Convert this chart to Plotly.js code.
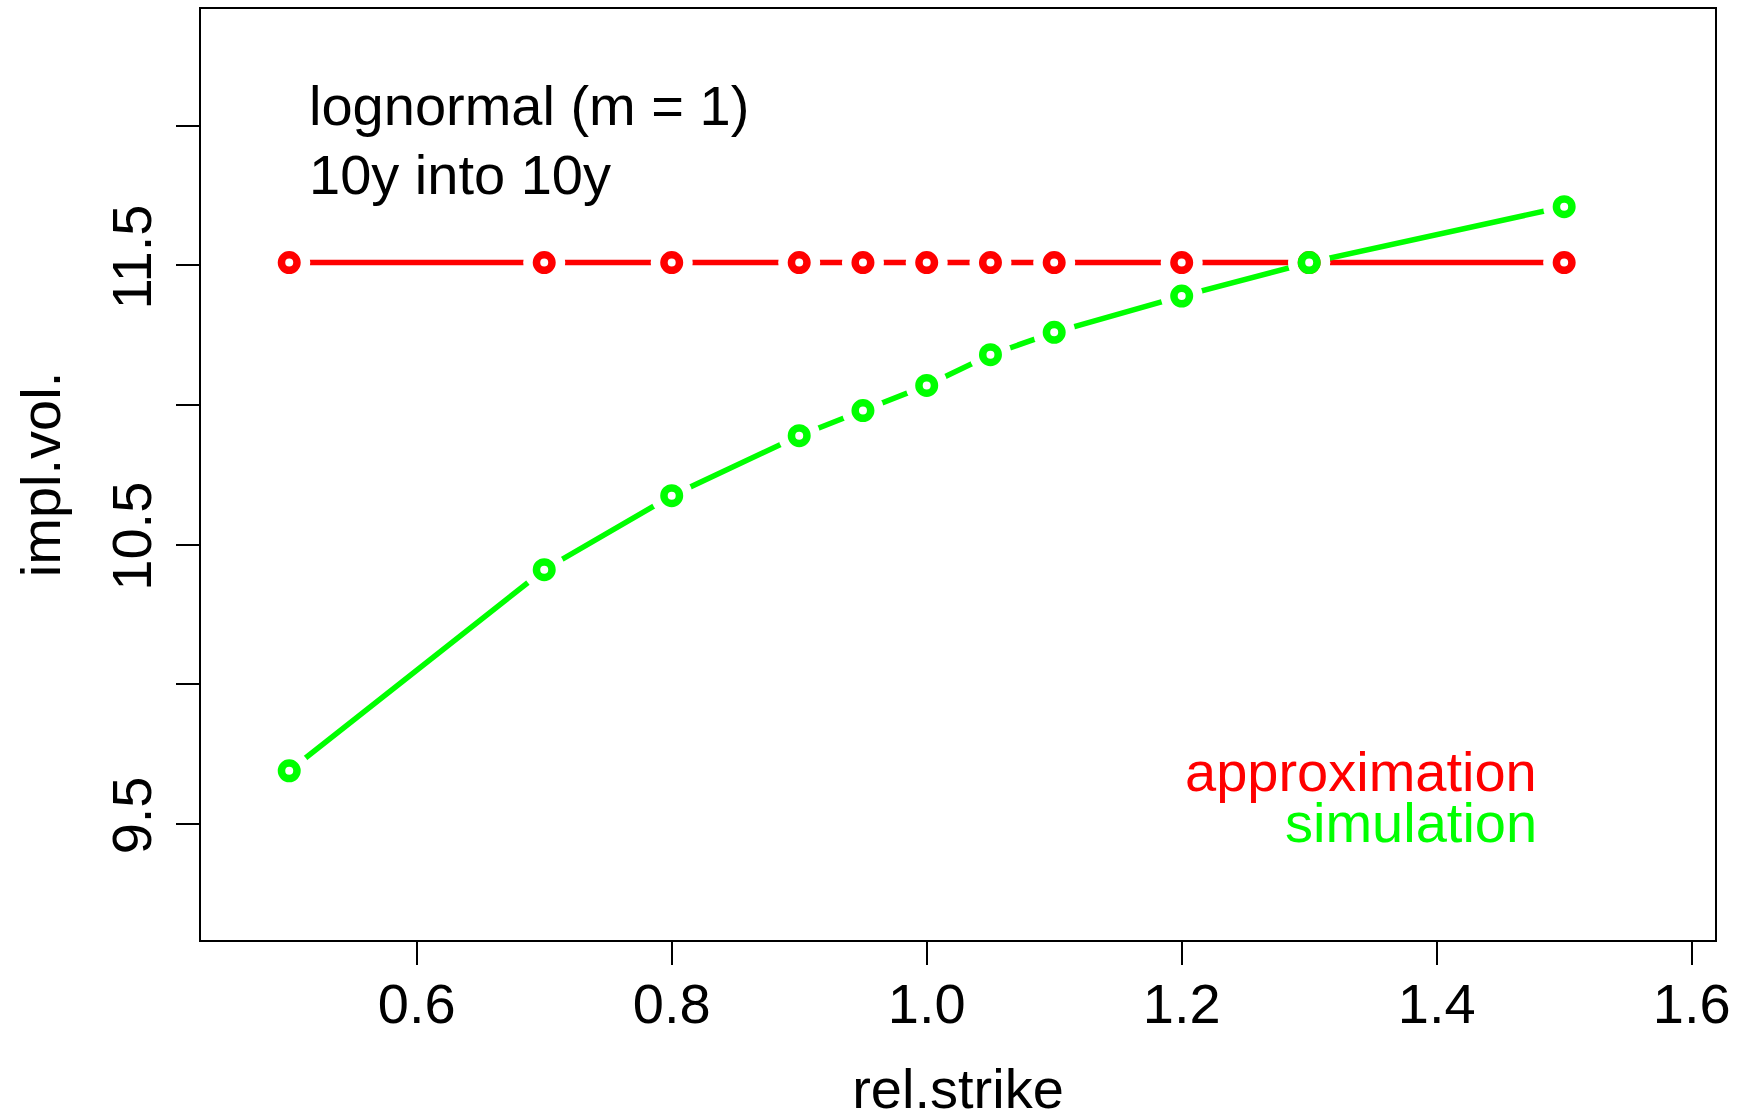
<!DOCTYPE html>
<html>
<head>
<meta charset="utf-8">
<script src="https://cdn.plot.ly/plotly-3.0.1.min.js"></script>
<style>
  html, body { margin: 0; padding: 0; background: #ffffff; }
  #chart { width: 1744px; height: 1120px; }
</style>
</head>
<body>
<div id="chart"></div>
<script>
// ---- data ----
const strike = [0.5, 0.7, 0.8, 0.9, 0.95, 1.0, 1.05, 1.1, 1.2, 1.3, 1.5];
const approximation = [11.51, 11.51, 11.51, 11.51, 11.51, 11.51, 11.51, 11.51, 11.51, 11.51, 11.51];
const simulation = [9.69, 10.41, 10.675, 10.89, 10.98, 11.07, 11.18, 11.26, 11.39, 11.51, 11.71];

const xTickVals = [0.6, 0.8, 1.0, 1.2, 1.4, 1.6];
const xTickText = ['0.6', '0.8', '1.0', '1.2', '1.4', '1.6'];
const yTickVals = [9.5, 10.0, 10.5, 11.0, 11.5, 12.0];
const yTickText = ['9.5', '', '10.5', '', '11.5', ''];

const RED = '#ff0000';
const GREEN = '#00ff00';
const FONT = '"Liberation Sans", Arial, Helvetica, sans-serif';

function lineTrace(y, color) {
  return { x: strike, y: y, type: 'scatter', mode: 'lines',
           line: { color: color, width: 5.5 }, hoverinfo: 'skip', showlegend: false };
}
function maskTrace(y) {
  return { x: strike, y: y, type: 'scatter', mode: 'markers',
           marker: { symbol: 'circle', size: 42, color: '#ffffff', line: { width: 0 } },
           hoverinfo: 'skip', showlegend: false };
}
function pointTrace(y, color, name) {
  return { x: strike, y: y, type: 'scatter', mode: 'markers', name: name,
           marker: { symbol: 'circle', size: 15.5, color: '#ffffff', line: { color: color, width: 7.5 } },
           hoverinfo: 'skip', showlegend: false };
}

const data = [
  lineTrace(approximation, RED),
  lineTrace(simulation, GREEN),
  maskTrace(approximation),
  maskTrace(simulation),
  pointTrace(approximation, RED, 'approximation'),
  pointTrace(simulation, GREEN, 'simulation')
];

const layout = {
  width: 1744, height: 1120,
  margin: { l: 201, r: 29, t: 8.5, b: 180, pad: 0 },
  paper_bgcolor: '#ffffff', plot_bgcolor: '#ffffff',
  font: { family: FONT, size: 56, color: '#000000' },
  showlegend: false,
  xaxis: {
    range: [0.4308, 1.6183], showgrid: false, zeroline: false,
    showline: true, mirror: true, linecolor: '#000000', linewidth: 2,
    ticks: 'outside', ticklen: 23, tickwidth: 2, tickcolor: '#000000',
    tickvals: xTickVals, ticktext: xTickText,
    tickfont: { family: FONT, size: 56, color: '#000000' },
    ticklabelstandoff: -9,
    title: { text: 'rel.strike', font: { family: FONT, size: 56, color: '#000000' }, standoff: 43 },
    automargin: false
  },
  yaxis: {
    range: [9.084, 12.418], showgrid: false, zeroline: false,
    showline: true, mirror: true, linecolor: '#000000', linewidth: 2,
    ticks: 'outside', ticklen: 23, tickwidth: 2, tickcolor: '#000000',
    tickvals: yTickVals, ticktext: yTickText, tickangle: -90,
    tickfont: { family: FONT, size: 56, color: '#000000' },
    ticklabelstandoff: 3,
    title: { text: 'impl.vol.', font: { family: FONT, size: 56, color: '#000000' }, standoff: 21 },
    automargin: false
  },
  annotations: [
    { text: 'lognormal (m = 1)', xref: 'paper', yref: 'paper', x: 0.070, y: 0.8961,
      xanchor: 'left', yanchor: 'middle', showarrow: false,
      font: { family: FONT, size: 56, color: '#000000' } },
    { text: '10y into 10y', xref: 'paper', yref: 'paper', x: 0.070, y: 0.8227,
      xanchor: 'left', yanchor: 'middle', showarrow: false,
      font: { family: FONT, size: 56, color: '#000000' } },
    { text: 'approximation', xref: 'paper', yref: 'paper', x: 0.8838, y: 0.181,
      xanchor: 'right', yanchor: 'middle', showarrow: false,
      font: { family: FONT, size: 56, color: RED } },
    { text: 'simulation', xref: 'paper', yref: 'paper', x: 0.8838, y: 0.1264,
      xanchor: 'right', yanchor: 'middle', showarrow: false,
      font: { family: FONT, size: 56, color: GREEN } }
  ]
};

Plotly.newPlot('chart', data, layout, { displayModeBar: false, staticPlot: true });
</script>
</body>
</html>
